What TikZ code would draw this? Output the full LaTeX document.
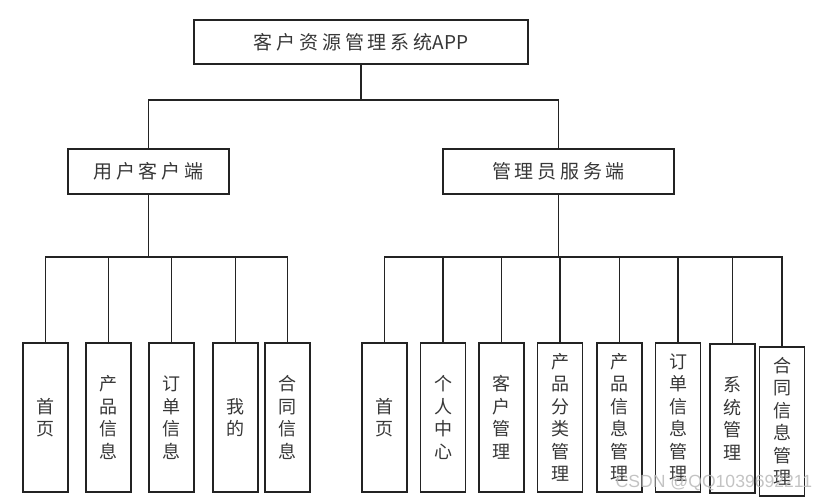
\documentclass[tikz,border=0pt]{standalone}
\usepackage{fontspec}
\newfontfamily\cjk{Noto Sans CJK SC}
\newfontfamily\cjksp[LetterSpace=20]{Noto Sans CJK SC}
\newfontfamily\wmfont{Liberation Sans}
\definecolor{linec}{RGB}{35,35,35}
\definecolor{txtc}{RGB}{55,55,55}
\begin{document}
\begin{tikzpicture}[x=1pt,y=-1pt,
  box/.style={draw=linec, line width=1.2pt, inner sep=0pt, text=txtc},
  headbox/.style={box, minimum height=45pt, font=\cjksp\fontsize{19}{22}\selectfont},
  leaf/.style={box, minimum width=45pt, minimum height=149pt, align=center, font=\cjk\fontsize{18}{22.5}\selectfont},
  link/.style={draw=linec, line width=1.2pt}]
\useasboundingbox (0,0) rectangle (828,500);
% top
\node[headbox, minimum width=334pt, minimum height=44pt] (root) at (361,42) {客户资源管理系统{\cjk APP}};
% second level
\node[headbox, minimum width=161pt] (u) at (148.5,171.5) {用户客户端};
\node[headbox, minimum width=231pt] (a) at (558.5,171.5) {管理员服务端};
% left leaves
\node[leaf] (l1) at (45.5,417.5) {首\\页};
\node[leaf] (l2) at (108.5,417.5) {产\\品\\信\\息};
\node[leaf] (l3) at (171.5,417.5) {订\\单\\信\\息};
\node[leaf] (l4) at (235.5,417.5) {我\\的};
\node[leaf] (l5) at (287.5,417.5) {合\\同\\信\\息};
% right leaves
\node[leaf] (r1) at (384.5,417.5) {首\\页};
\node[leaf] (r2) at (443,417.5) {个\\人\\中\\心};
\node[leaf] (r3) at (501.5,417.5) {客\\户\\管\\理};
\node[leaf] (r4) at (560,417.5) {产\\品\\分\\类\\管\\理};
\node[leaf] (r5) at (619.5,417.5) {产\\品\\信\\息\\管\\理};
\node[leaf] (r6) at (678,417.5) {订\\单\\信\\息\\管\\理};
\node[leaf] (r7) at (732.5,418.5) {系\\统\\管\\理};
\node[leaf] (r8) at (782,421.5) {合\\同\\信\\息\\管\\理};
% bus coordinates
\coordinate (tb) at (361,100);
\coordinate (ub) at (148.5,257);
\coordinate (ab) at (558.5,257);
% connectors
\draw[link] (root) -- (tb);
\draw[link] (u.north) |- (tb);
\draw[link] (a.north) |- (tb);
\draw[link] (u) -- (ub);
\draw[link] (a) -- (ab);
\foreach \n in {l1,l2,l3,l4,l5} \draw[link] (\n.north) |- (ub);
\foreach \n in {r1,r2,r3,r4,r5,r6,r7,r8} \draw[link] (\n.north) |- (ab);
% watermark
\node[font=\wmfont\fontsize{17.6}{20}\selectfont, text=gray!55, opacity=0.85] (wm) at (714,483) {CSDN @QQ1039692211};
\end{tikzpicture}
\end{document}
